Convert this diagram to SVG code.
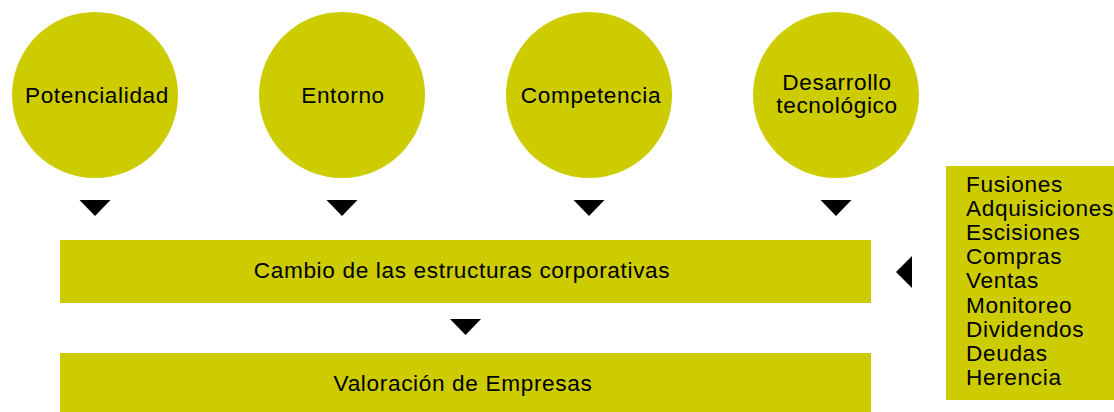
<svg xmlns="http://www.w3.org/2000/svg" width="1114" height="412" viewBox="0 0 1114 412">
<style>
.shape{fill:#cccc00}
.t{font-family:"Liberation Sans",Arial,Helvetica,sans-serif;font-size:22.6px;letter-spacing:0.65px;fill:#000}
.c{text-anchor:middle}
.arr{fill:#000}
</style>
<rect width="1114" height="412" fill="#fff"/>
<g id="node-potencialidad">
<circle class="shape" cx="95" cy="95" r="83"/>
<text class="t c" x="97" y="103">Potencialidad</text>
</g>
<g id="node-entorno">
<circle class="shape" cx="342" cy="95" r="83"/>
<text class="t c" x="343" y="103">Entorno</text>
</g>
<g id="node-competencia">
<circle class="shape" cx="589" cy="95" r="83"/>
<text class="t c" x="591" y="103">Competencia</text>
</g>
<g id="node-desarrollo">
<circle class="shape" cx="836" cy="95" r="83"/>
<text class="t c" x="837" y="90">Desarrollo</text>
<text class="t c" x="837" y="113">tecnológico</text>
</g>
<g id="node-cambio">
<rect class="shape" x="60" y="240" width="811" height="63"/>
<text class="t c" x="462" y="278">Cambio de las estructuras corporativas</text>
</g>
<g id="node-valoracion">
<rect class="shape" x="60" y="353" width="811" height="59"/>
<text class="t c" x="463" y="391">Valoración de Empresas</text>
</g>
<g id="node-lista">
<rect class="shape" x="946" y="166" width="168" height="234"/>
<text class="t" x="966" y="192">Fusiones</text>
<text class="t" x="966" y="216">Adquisiciones</text>
<text class="t" x="966" y="240">Escisiones</text>
<text class="t" x="966" y="264">Compras</text>
<text class="t" x="966" y="288">Ventas</text>
<text class="t" x="966" y="313">Monitoreo</text>
<text class="t" x="966" y="337">Dividendos</text>
<text class="t" x="966" y="361">Deudas</text>
<text class="t" x="966" y="385">Herencia</text>
</g>
<g id="connectors">
<polygon class="arr" points="79.5,200 110.5,200 95,216"/>
<polygon class="arr" points="326.5,200 357.5,200 342,216"/>
<polygon class="arr" points="573.5,200 604.5,200 589,216"/>
<polygon class="arr" points="820.5,200 851.5,200 836,216"/>
<polygon class="arr" points="450,319 481,319 465.5,335"/>
<polygon class="arr" points="912,256 912,288 896,272"/>
</g>
</svg>
